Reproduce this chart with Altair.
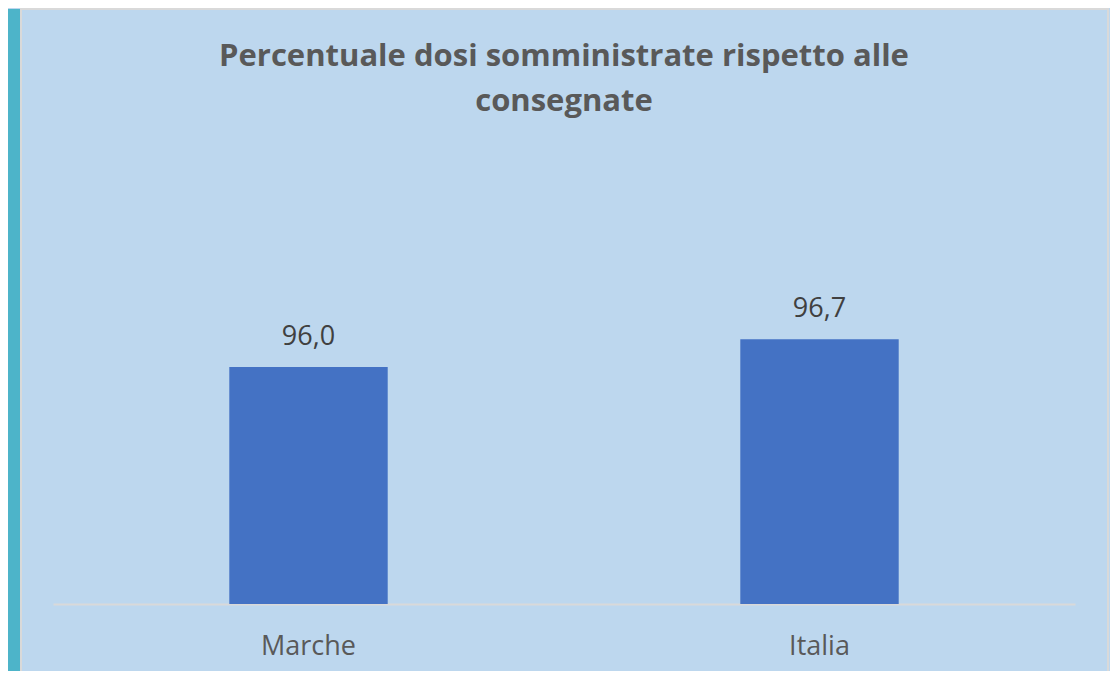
import altair as alt
import pandas as pd

categories = ["Marche", "Italia"]
values = [96.0, 96.7]
labels = [f"{v:.1f}".replace(".", ",") for v in values]
title_lines = ["Percentuale dosi somministrate rispetto alle", "consegnate"]

df = pd.DataFrame({"cat": categories, "val": values, "lab": labels})

FONT = "Open Sans"
BG = "#BDD7EE"
TEAL = "#4DB4C9"

x_enc = alt.X("cat:N", sort=categories,
              scale=alt.Scale(paddingInner=0.69, paddingOuter=0.345),
              axis=alt.Axis(title=None, labelAngle=0, ticks=False, domainColor="#D9D9D9",
                            domainWidth=2, labelFontSize=27, labelColor="#595959",
                            labelFont=FONT, labelPadding=29, grid=False))
y_scale = alt.Scale(domain=[90, 98], zero=False)

base = alt.Chart(df)

bars = base.mark_bar(color="#4472C4").encode(
    x=x_enc,
    y=alt.Y("val:Q", scale=y_scale, axis=None),
    y2=alt.datum(90),
)

text = base.mark_text(dy=-22, baseline="alphabetic", fontSize=27, font=FONT, color="#404040").encode(
    x=alt.X("cat:N", sort=categories),
    y=alt.Y("val:Q", scale=y_scale),
    text="lab:N",
)

# decorative frame: teal strip on the left and the panel's light border
strip = alt.Chart(pd.DataFrame({"k": [0]})).mark_rect(color=TEAL).encode(
    x=alt.value(-45), x2=alt.value(-33), y=alt.value(-279), y2=alt.value(400)
)
frame = alt.Chart(pd.DataFrame({"k": [0]})).mark_rect(fill=None, stroke="#D9D9D9", strokeWidth=2).encode(
    x=alt.value(-32), x2=alt.value(1055), y=alt.value(-279), y2=alt.value(400)
)

chart = alt.layer(strip, frame, bars, text).properties(
    width=1022,
    height=316,
    background=BG,
    padding={"left": 45, "top": 280, "right": 35, "bottom": 67},
    autosize=alt.AutoSizeParams(type="none"),
    title=alt.TitleParams(text=title_lines, anchor="middle", fontSize=31, font=FONT,
                          fontWeight="bold", color="#595959", lineHeight=45,
                          baseline="bottom", offset=0, dy=141),
).configure_view(stroke=None)

chart.save("out.html", embed_options={"renderer": "svg", "actions": False})
